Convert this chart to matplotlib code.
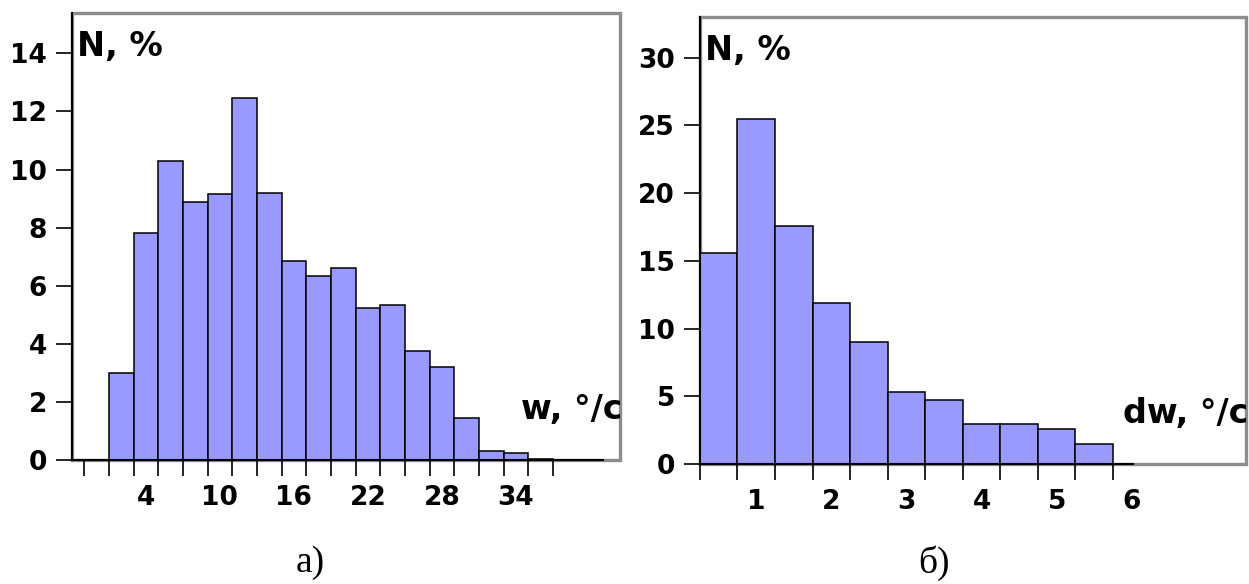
import matplotlib
matplotlib.use("Agg")
import matplotlib.pyplot as plt
from matplotlib.patches import Rectangle

# Гистограмма а): угловая скорость w, бины по 2 °/c
w_centers = [0, 2, 4, 6, 8, 10, 12, 14, 16, 18, 20, 22, 24, 26, 28, 30, 32, 34, 36]
w_percent = [0, 3.0, 7.8, 10.3, 8.9, 9.15, 12.45, 9.2, 6.85, 6.35, 6.6, 5.25, 5.35,
             3.75, 3.2, 1.45, 0.3, 0.25, 0.05]
w_labels = [4, 10, 16, 22, 28, 34]
w_yticks = [0, 2, 4, 6, 8, 10, 12, 14]

# Гистограмма б): dw, бины по 0.5 °/c
dw_centers = [0.5, 1.0, 1.5, 2.0, 2.5, 3.0, 3.5, 4.0, 4.5, 5.0, 5.5]
dw_percent = [15.6, 25.5, 17.6, 11.9, 9.0, 5.35, 4.75, 2.95, 2.95, 2.6, 1.45]
dw_labels = [1, 2, 3, 4, 5, 6]
dw_yticks = [0, 5, 10, 15, 20, 25, 30]

BAR = "#9999ff"
GRAY = "#8c8c8c"
FS_TICK = 19
FS_LAB = 24

fig = plt.figure(figsize=(12.49, 5.84), dpi=100)
ax1 = fig.add_axes([0.0576, 0.2123, 0.4388, 0.7654])
ax2 = fig.add_axes([0.5604, 0.2055, 0.4372, 0.7654])


def draw_hist(ax, centers, values, width, labels, yticks, xlim, ylim, xend, xname):
    ax.bar(centers, values, width=width, color=BAR, edgecolor="black", linewidth=1.1, zorder=2)
    ax.set_xlim(*xlim)
    ax.set_ylim(*ylim)

    # серая рамка рисунка
    ax.add_patch(Rectangle((0, 0), 1, 1, transform=ax.transAxes, fill=False,
                           edgecolor=GRAY, linewidth=2.4, zorder=0, clip_on=False))
    for s in ["top", "right"]:
        ax.spines[s].set_visible(False)
    ax.spines["left"].set_linewidth(1.5)
    ax.spines["bottom"].set_linewidth(1.5)
    ax.spines["bottom"].set_bounds(xlim[0], xend)
    ax.spines["left"].set_zorder(3)
    ax.spines["bottom"].set_zorder(3)

    # деления на границах бинов, подписи в центрах
    edges = [c - width / 2 for c in centers] + [centers[-1] + width / 2]
    ax.set_xticks(edges)
    ax.set_xticklabels([])
    ax.set_xticks(labels, minor=True)
    ax.set_xticklabels([str(v) for v in labels], minor=True)
    ax.tick_params(axis="x", which="major", length=11.5, width=1.2, direction="out")
    ax.tick_params(axis="x", which="minor", length=0, pad=18, labelsize=FS_TICK)

    ax.set_yticks(yticks)
    ax.set_yticklabels([str(v) for v in yticks])
    ax.tick_params(axis="y", length=11.5, width=1.2, pad=6.5, labelsize=FS_TICK)
    for t in ax.get_xticklabels(minor=True) + ax.get_yticklabels():
        t.set_fontweight("bold")

    ax.text(0.01, 0.926, "N, %", transform=ax.transAxes, fontsize=FS_LAB,
            fontweight="bold", ha="left", va="center")
    ax.text(1.004, 0.112, xname, transform=ax.transAxes, fontsize=FS_LAB,
            fontweight="bold", ha="right", va="center", clip_on=True)


draw_hist(ax1, w_centers, w_percent, 2, w_labels, w_yticks, (-2, 42.44), (0, 15.39), 41.1,
          "w, °/c")
draw_hist(ax2, dw_centers, dw_percent, 0.5, dw_labels, dw_yticks, (0.25, 7.52), (0, 33.0), 6.02,
          "dw, °/c")

fig.text(310 / 1249, 1 - 563 / 584, "а)", fontsize=27, family="Liberation Serif",
         ha="center", va="center")
fig.text(934 / 1249, 1 - 563 / 584, "б)", fontsize=27, family="Liberation Serif",
         ha="center", va="center")

fig.savefig("out.png", dpi=100)
